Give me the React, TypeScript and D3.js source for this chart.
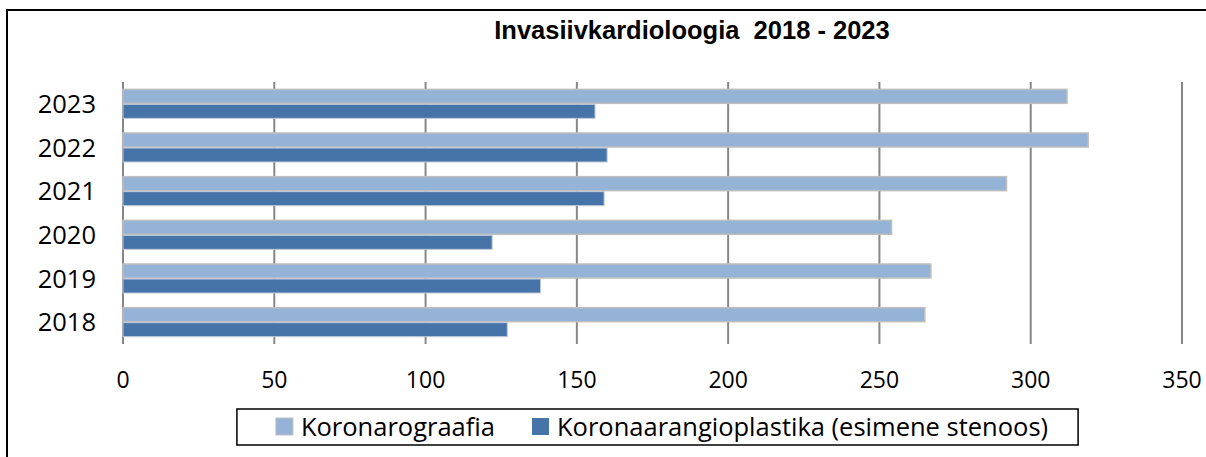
import { useEffect, useRef } from 'react';
import * as d3 from 'd3';

const years = ['2018', '2019', '2020', '2021', '2022', '2023'];
const koronarograafia = [265, 267, 254, 292, 319, 312];
const angioplastika = [127, 138, 122, 159, 160, 156];
const seriesNames = ['Koronarograafia', 'Koronaarangioplastika (esimene stenoos)'];
const xTicks = [0, 50, 100, 150, 200, 250, 300, 350];

const FONT = '"Open Sans", sans-serif';

const App = () => {
  const svgRef = useRef<SVGSVGElement>(null);

  useEffect(() => {
    const width = 1206;
    const height = 457;
    const svg = d3.select(svgRef.current)
      .attr('width', width)
      .attr('height', height);
    svg.selectAll('*').remove();

    // chart frame (right/bottom edges run off the picture)
    svg.append('rect')
      .attr('x', 7).attr('y', 10)
      .attr('width', 1220).attr('height', 470)
      .attr('fill', 'white')
      .attr('stroke', 'black')
      .attr('stroke-width', 2);

    svg.append('text')
      .attr('x', 692).attr('y', 39)
      .attr('text-anchor', 'middle')
      .attr('font-family', '"Liberation Sans", Arial, sans-serif')
      .attr('font-weight', 'bold')
      .attr('font-size', 25.5)
      .style('white-space', 'pre')
      .text('Invasiivkardioloogia  2018 - 2023');

    const x = d3.scaleLinear().domain([0, 350]).range([123, 1182]);
    const y = d3.scaleBand()
      .domain([...years].reverse())
      .range([82, 344])
      .paddingInner(0.313)
      .paddingOuter(0.1565);
    const ySub = d3.scaleBand().domain(['a', 'b']).range([0, y.bandwidth()]);

    // gridlines
    svg.append('g')
      .selectAll('line')
      .data(xTicks)
      .join('line')
      .attr('x1', d => x(d)).attr('x2', d => x(d))
      .attr('y1', 82).attr('y2', 344)
      .attr('stroke', '#878787')
      .attr('stroke-width', 2);

    const rows = years.map((yr, i) => ({ yr, a: koronarograafia[i], b: angioplastika[i] }));

    const g = svg.append('g');
    g.selectAll('rect.a')
      .data(rows)
      .join('rect')
      .attr('class', 'a')
      .attr('x', x(0))
      .attr('y', d => y(d.yr)! + ySub('a')! + 0.5)
      .attr('width', d => x(d.a) - x(0))
      .attr('height', ySub.bandwidth() - 1)
      .attr('fill', '#95B3D7')
      .attr('stroke', '#BFBFBF')
      .attr('stroke-width', 1.5);

    g.selectAll('rect.b')
      .data(rows)
      .join('rect')
      .attr('class', 'b')
      .attr('x', x(0))
      .attr('y', d => y(d.yr)! + ySub('b')! + 0.5)
      .attr('width', d => x(d.b) - x(0))
      .attr('height', ySub.bandwidth() - 1)
      .attr('fill', '#4673A8')
      .attr('stroke', '#BFC9D9')
      .attr('stroke-width', 1);

    // category labels
    svg.append('g')
      .selectAll('text')
      .data(years)
      .join('text')
      .attr('x', 96)
      .attr('y', d => y(d)! + y.bandwidth() / 2)
      .attr('dy', '0.36em')
      .attr('text-anchor', 'end')
      .attr('font-family', FONT)
      .attr('font-size', 25.5)
      .text(d => d);

    // value axis labels
    svg.append('g')
      .selectAll('text')
      .data(xTicks)
      .join('text')
      .attr('x', d => x(d))
      .attr('y', 388)
      .attr('text-anchor', 'middle')
      .attr('font-family', FONT)
      .attr('font-size', 23)
      .text(d => d);

    // legend
    const legend = svg.append('g');
    const box = legend.append('rect')
      .attr('y', 409).attr('height', 36)
      .attr('fill', 'white')
      .attr('stroke', 'black')
      .attr('stroke-width', 1.5);
    const colors = ['#95B3D7', '#4673A8'];
    let cx = 0;
    const items = seriesNames.map((name, i) => {
      const it = legend.append('g');
      it.append('rect')
        .attr('x', 0).attr('y', 418)
        .attr('width', 17).attr('height', 17)
        .attr('fill', colors[i])
        .attr('stroke', i === 0 ? '#BFBFBF' : 'none');
      const t = it.append('text')
        .attr('x', 25).attr('y', 436)
        .attr('font-family', FONT)
        .attr('font-size', 25.5)
        .text(name);
      const w = 25 + (t.node() as SVGTextElement).getComputedTextLength();
      const pos = cx;
      cx += w + 37;
      return { it, pos, w };
    });
    const total = cx - 37;
    const left = 662 - total / 2;
    items.forEach(({ it, pos }) => it.attr('transform', `translate(${left + pos},0)`));
    box.attr('x', left - 39).attr('width', total + 39 + 30);
  }, []);

  return <svg ref={svgRef} style={{ position: 'absolute', left: 0, top: 0 }}></svg>;
};

export default App;
